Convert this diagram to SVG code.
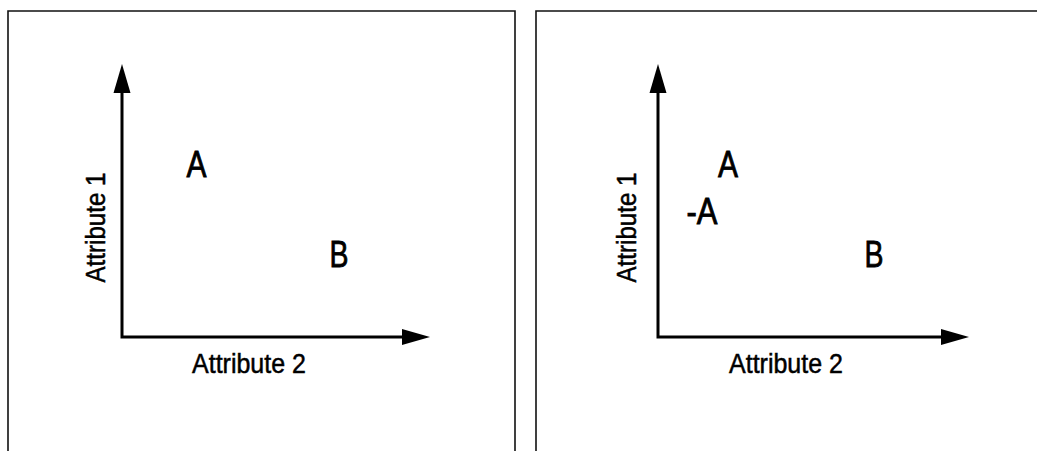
<svg xmlns="http://www.w3.org/2000/svg" width="1037" height="451" viewBox="0 0 1037 451">
<style>
.frame{fill:none;stroke:#111;stroke-width:1.6}
.axis{fill:none;stroke:#000;stroke-width:3}
.head{fill:#000}
.lbl{font-family:"Liberation Sans Narrow","Liberation Sans",Arial,sans-serif;font-size:27px;fill:#000;stroke:#000;stroke-width:0.5;text-anchor:middle}
.pt{font-family:"Liberation Sans Narrow","Liberation Sans",Arial,sans-serif;font-size:36px;fill:#000;stroke:#000;stroke-width:0.8;text-anchor:middle}
</style>
<rect width="1037" height="451" fill="#fff"/>
<g id="panel-left">
<path class="frame" d="M8,452 V11 H515 V452"/>
<g id="axes-left">
<path class="axis" d="M122,90 V337 H405"/>
<path class="head" d="M122,64 L113.5,93 L130.5,93 Z"/>
<path class="head" d="M430,337 L402,329 L402,345 Z"/>
</g>
<text class="lbl" transform="translate(105,227.5) rotate(-90)" textLength="110" lengthAdjust="spacingAndGlyphs">Attribute 1</text>
<text class="lbl" x="249" y="373" textLength="114" lengthAdjust="spacingAndGlyphs">Attribute 2</text>
<g id="pointA-left"><text class="pt" x="196.5" y="177" textLength="20" lengthAdjust="spacingAndGlyphs">A</text></g>
<g id="pointB-left"><text class="pt" x="339" y="267" textLength="19" lengthAdjust="spacingAndGlyphs">B</text></g>
</g>
<g id="panel-right">
<path class="frame" d="M536,452 V11 H1038"/>
<g id="axes-right">
<path class="axis" d="M658,90 V337 H943"/>
<path class="head" d="M658,64 L649.5,93 L666.5,93 Z"/>
<path class="head" d="M969,337 L941,329 L941,345 Z"/>
</g>
<text class="lbl" transform="translate(636,227.5) rotate(-90)" textLength="110" lengthAdjust="spacingAndGlyphs">Attribute 1</text>
<text class="lbl" x="786" y="373" textLength="114" lengthAdjust="spacingAndGlyphs">Attribute 2</text>
<g id="pointA-right"><text class="pt" x="728" y="177" textLength="20" lengthAdjust="spacingAndGlyphs">A</text></g>
<g id="pointNegA-right"><text class="pt" x="702" y="224" textLength="31" lengthAdjust="spacingAndGlyphs">-A</text></g>
<g id="pointB-right"><text class="pt" x="874" y="267" textLength="19" lengthAdjust="spacingAndGlyphs">B</text></g>
</g>
</svg>
